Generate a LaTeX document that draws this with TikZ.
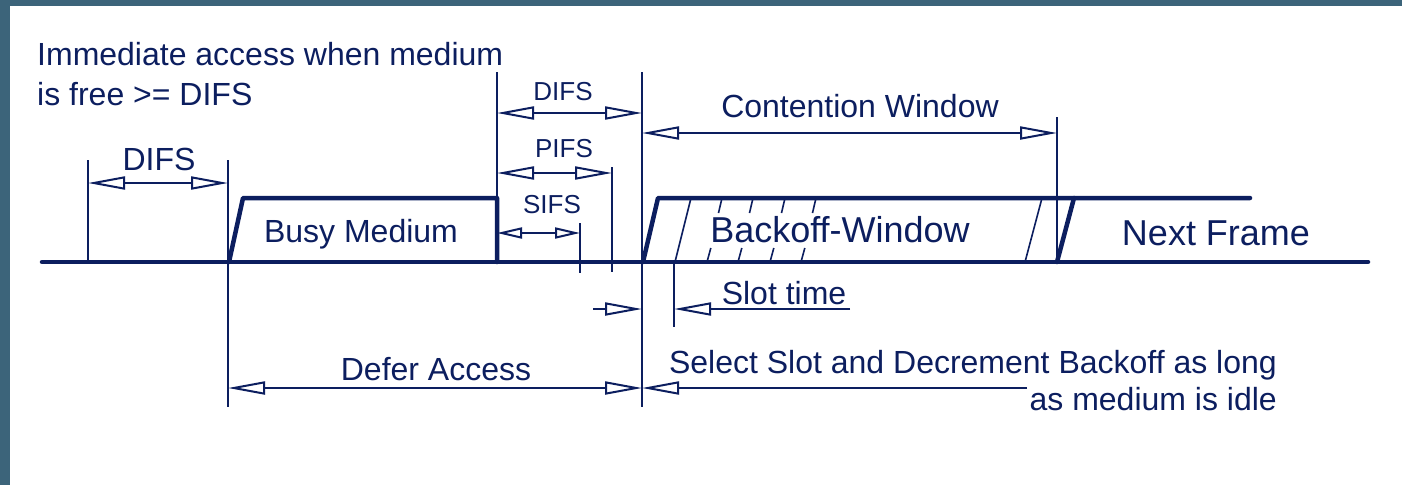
\documentclass[tikz,border=0pt]{standalone}
\usepackage{fontspec}
\setmainfont{Liberation Sans}
\usetikzlibrary{arrows.meta}
\definecolor{navy}{RGB}{12,30,95}
\definecolor{framecol}{RGB}{60,100,122}
\begin{document}
\begin{tikzpicture}[x=1pt,y=-1pt,
  thickln/.style={line width=4.5pt, draw=navy, line cap=round, line join=round},
  thinln/.style={line width=2pt, draw=navy},
  slantln/.style={line width=1.6pt, draw=navy},
  tipbig/.tip={Triangle[open,length=37pt,width=13pt]},
  tipsmall/.tip={Triangle[open,length=25pt,width=11pt]},
  dimln/.style={line width=2pt, draw=navy},
  lbl/.style={inner sep=0pt, text=navy, font=\fontsize{32}{38}\selectfont},
  lblsmall/.style={inner sep=0pt, text=navy, font=\fontsize{26}{31}\selectfont},
  lblbig/.style={inner sep=0pt, text=navy, font=\fontsize{36}{43}\selectfont},
]
\useasboundingbox (0,0) rectangle (1402,485);
\fill[framecol] (0,0) rectangle (1402,6);
\fill[framecol] (0,0) rectangle (10,485);

% key coordinates
\coordinate (b0) at (42,262);
\coordinate (b1) at (1368,262);
\coordinate (busyA) at (229,262);
\coordinate (busyB) at (243,198);
\coordinate (busyC) at (497,198);
\coordinate (busyD) at (497,262);
\coordinate (bkA) at (643,262);
\coordinate (bkB) at (658,198);
\coordinate (bkC) at (1250,198);
\coordinate (nfA) at (1057,262);
\coordinate (nfB) at (1074,198);

% thick lines
\draw[thickln] (b0) -- (b1);
\draw[thickln] (busyA) -- (busyB) -- (busyC) -- (busyD);
\draw[thickln] (bkA) -- (bkB) -- (bkC);
\draw[thickln] (nfA) -- (nfB);

% vertical guide lines
\coordinate (v88t) at (88,160);   \coordinate (v88b) at (88,262);
\coordinate (v228t) at (228,160); \coordinate (v228b) at (228,407);
\coordinate (v497t) at (497,72);  \coordinate (v497b) at (497,262);
\coordinate (v642t) at (642,72);  \coordinate (v642b) at (642,407);
\coordinate (v612t) at (612,167); \coordinate (v612b) at (612,272);
\coordinate (v580t) at (580,223); \coordinate (v580b) at (580,273);
\coordinate (v1057t) at (1057,117); \coordinate (v1057b) at (1057,262);
\coordinate (v674t) at (674,262); \coordinate (v674b) at (674,327);
\draw[thinln] (v88t) -- (v88b);
\draw[thinln] (v228t) -- (v228b);
\draw[thinln] (v497t) -- (v497b);
\draw[thinln] (v642t) -- (v642b);
\draw[thinln] (v612t) -- (v612b);
\draw[thinln] (v580t) -- (v580b);
\draw[thinln] (v1057t) -- (v1057b);
\draw[thinln] (v674t) -- (v674b);

% slot slants
\coordinate (s1a) at (675,262); \coordinate (s1b) at (691,198);
\coordinate (s2a) at (1025,262); \coordinate (s2b) at (1042,198);
\draw[slantln] (s1a) -- (s1b);
\draw[slantln] (s2a) -- (s2b);
\foreach \t in {722,753,785,816}{
  \draw[slantln] (\t,198) -- (\t-3.5,213);
  \draw[slantln] (\t-11.2,248) -- (\t-15,262);
}

% dimension arrows
\coordinate (d1a) at (88,183);  \coordinate (d1b) at (228,183);
\coordinate (d2a) at (497,113); \coordinate (d2b) at (642,113);
\coordinate (d3a) at (497,173); \coordinate (d3b) at (612,173);
\coordinate (d4a) at (497,233); \coordinate (d4b) at (580,233);
\coordinate (d5a) at (642,133); \coordinate (d5b) at (1057,133);
\coordinate (d6a) at (228,388); \coordinate (d6b) at (642,388);
\coordinate (d7a) at (1027,388); \coordinate (d7b) at (642,388);
\coordinate (st0) at (593,309); \coordinate (st1) at (642,309);
\coordinate (st2) at (850,309); \coordinate (st3) at (674,309);
\draw[dimln, tipbig-tipbig] (d1a) -- (d1b);
\draw[dimln, tipbig-tipbig] (d2a) -- (d2b);
\draw[dimln, tipbig-tipbig] (d3a) -- (d3b);
\draw[dimln, tipsmall-tipsmall] (d4a) -- (d4b);
\draw[dimln, tipbig-tipbig] (d5a) -- (d5b);
\draw[dimln, tipbig-tipbig] (d6a) -- (d6b);
\draw[dimln, -tipbig] (d7a) -- (d7b);
\draw[dimln, -tipbig] (st0) -- (st1);
\draw[dimln, -tipbig] (st2) -- (st3);

% labels
\node[lbl, anchor=base west] (imm1) at (37,65) {Immediate access when medium};
\node[lbl, anchor=base west] (imm2) at (37,105) {is free >= DIFS};
\node[lbl, anchor=base] (difs1) at (159,170) {DIFS};
\node[lbl, anchor=base] (busy) at (361,242) {Busy Medium};
\node[lblsmall, anchor=base] (difs2) at (563,100) {DIFS};
\node[lblsmall, anchor=base] (pifs) at (564,157) {PIFS};
\node[lblsmall, anchor=base] (sifs) at (552,213) {SIFS};
\node[lbl, anchor=base] (cw) at (860,117) {Contention Window};
\node[lblbig, anchor=base] (bw) at (840,242) {Backoff-Window};
\node[lblbig, anchor=base] (nf) at (1216,245) {Next Frame};
\node[lbl, anchor=base] (slot) at (784,304) {Slot time};
\node[lbl, anchor=base] (defer) at (436,380) {Defer Access};
\node[lbl, anchor=base east] (sel1) at (1277,373) {Select Slot and Decrement Backoff as long};
\node[lbl, anchor=base east] (sel2) at (1277,410) {as medium is idle};
\end{tikzpicture}
\end{document}
